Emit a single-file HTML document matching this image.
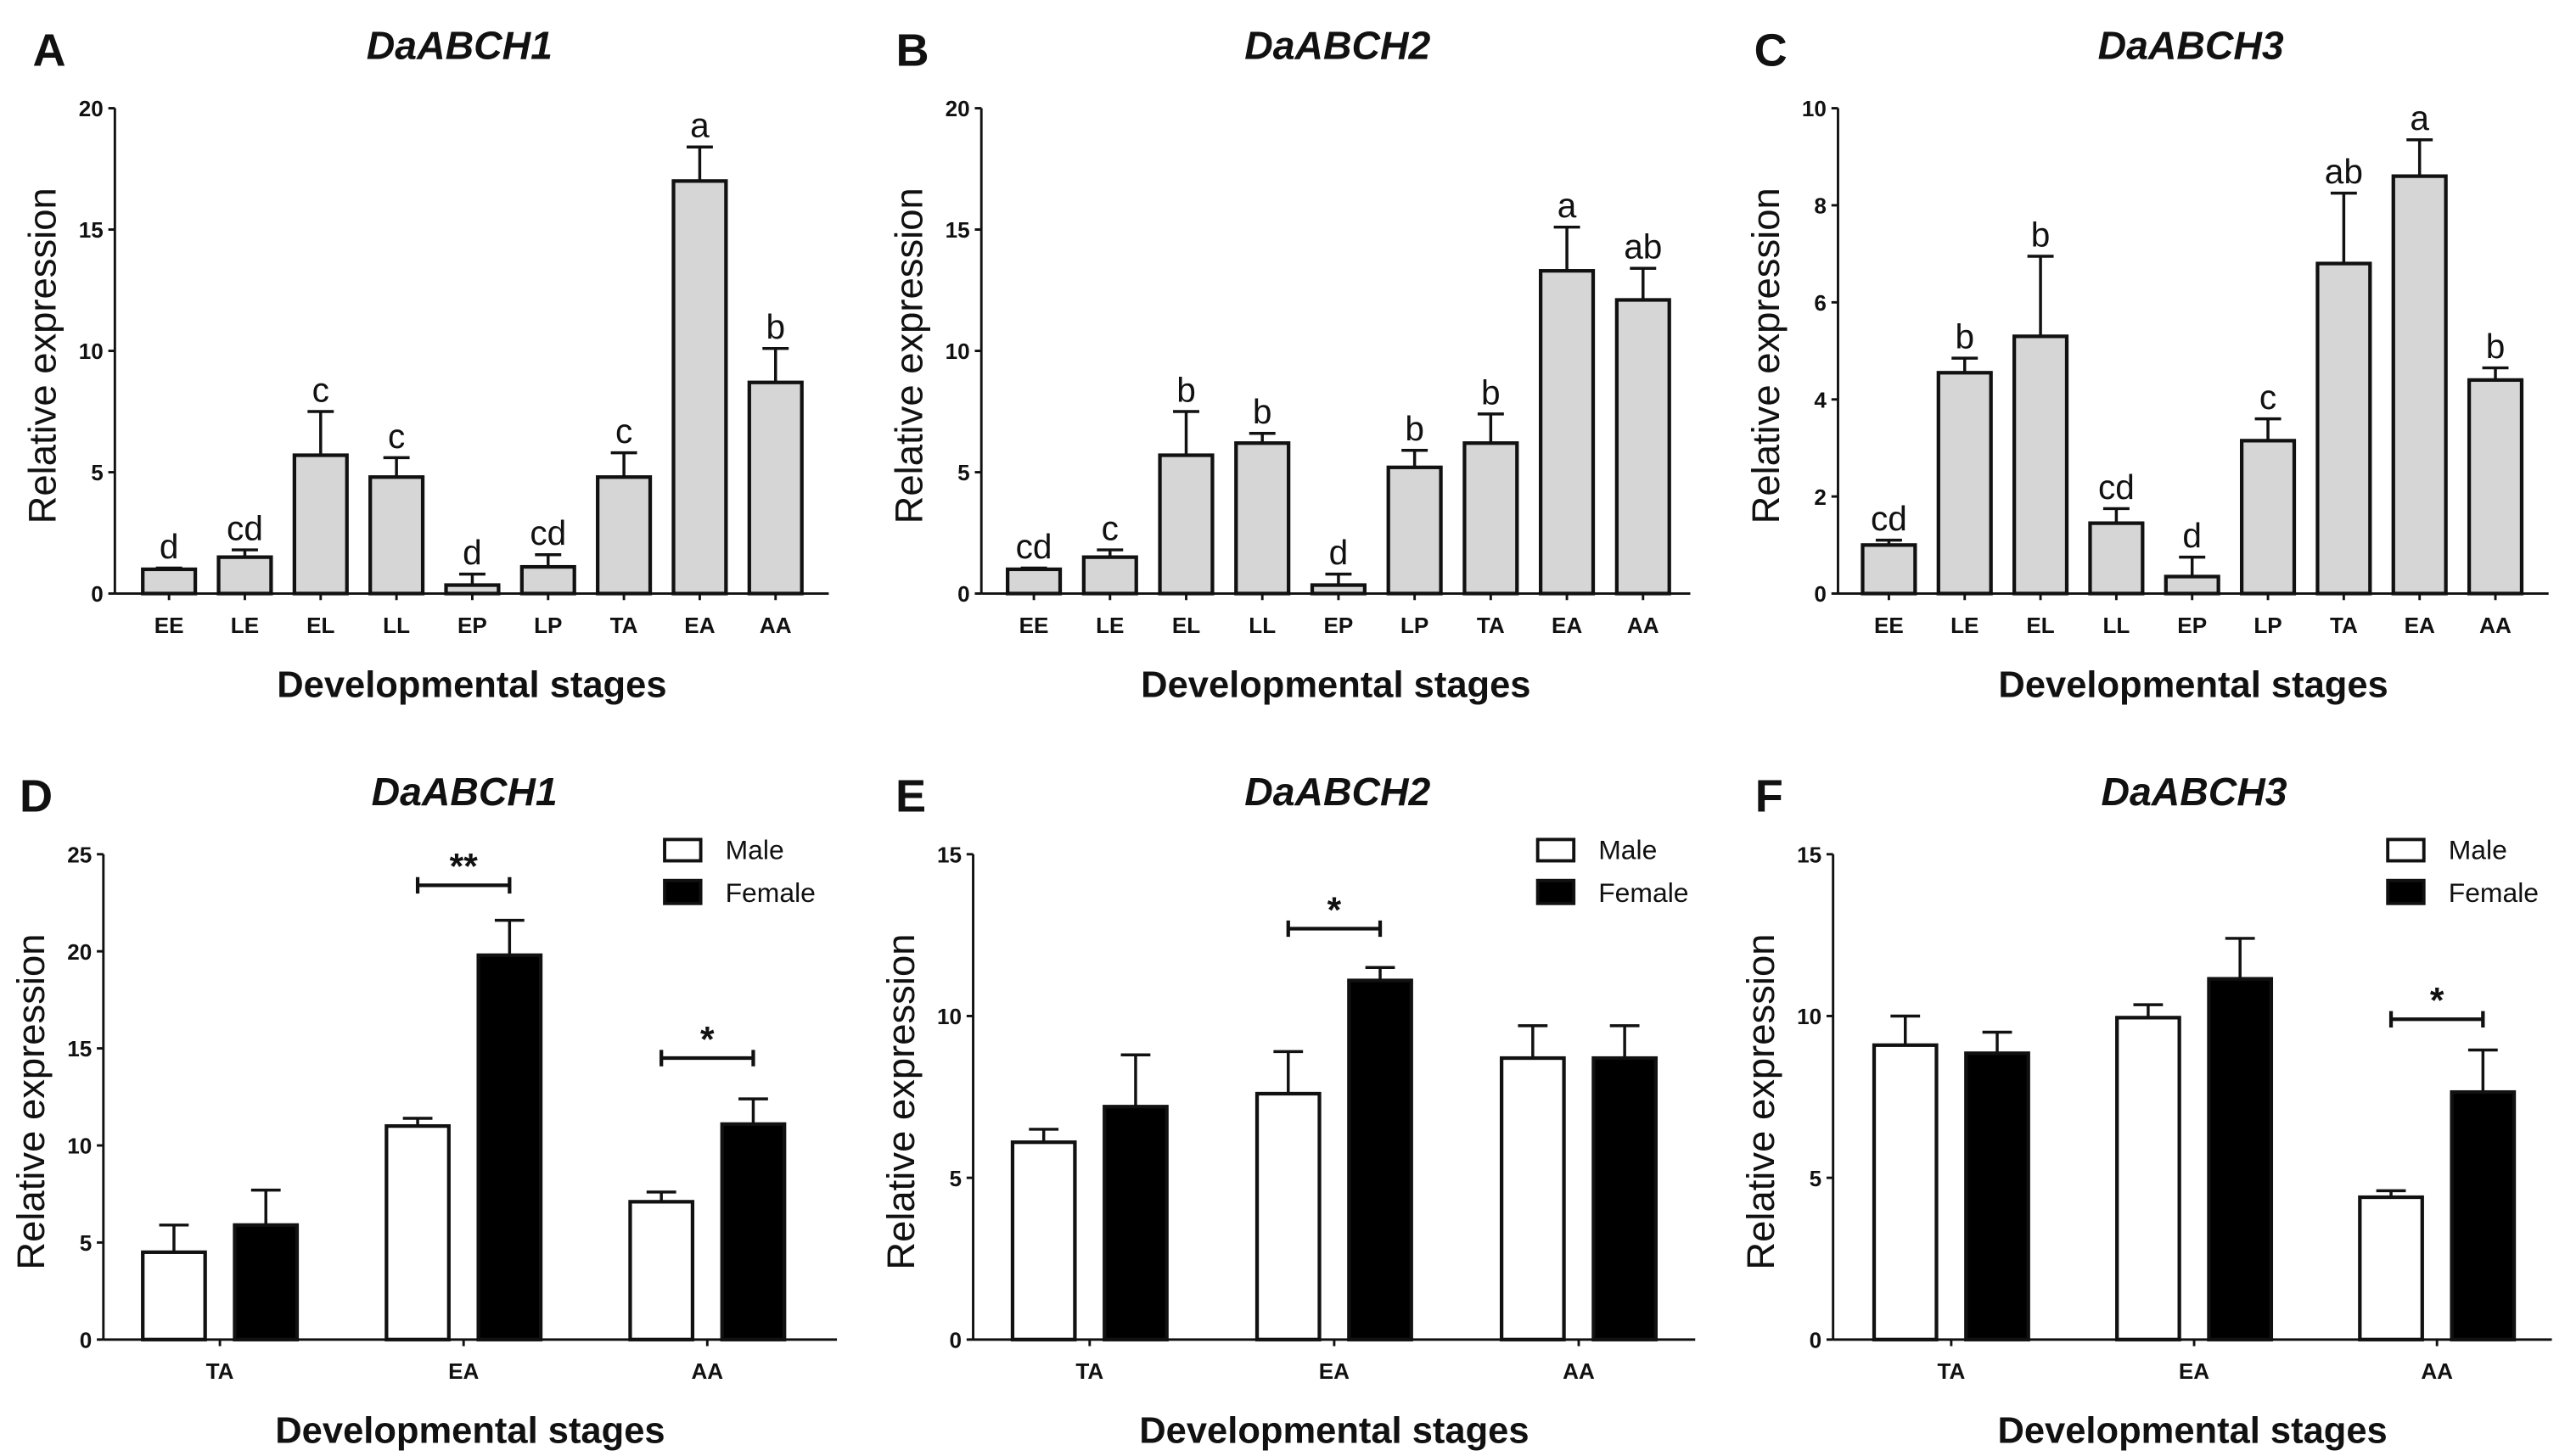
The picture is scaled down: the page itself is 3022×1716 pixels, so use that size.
<!DOCTYPE html>
<html><head><meta charset="utf-8"><style>
html,body{margin:0;padding:0;background:#fff}
svg{display:block}
text{font-family:"Liberation Sans",Arial,sans-serif;fill:#111}
</style></head><body>
<svg id="fig" width="3022" height="1716" viewBox="0 0 1563 888" preserveAspectRatio="none" xmlns="http://www.w3.org/2000/svg"></svg>
<script>
// ---- Data: top row (developmental stages) ----
const stages = ["EE","LE","EL","LL","EP","LP","TA","EA","AA"];
const aVals = [1.0,1.5,5.7,4.8,0.35,1.1,4.8,17.0,8.7];
const aErr  = [1.05,1.8,7.5,5.6,0.8,1.6,5.8,18.4,10.1];
const aSig  = ["d","cd","c","c","d","cd","c","a","b"];
const bVals = [1.0,1.5,5.7,6.2,0.35,5.2,6.2,13.3,12.1];
const bErr  = [1.05,1.8,7.5,6.6,0.8,5.9,7.4,15.1,13.4];
const bSig  = ["cd","c","b","b","d","b","b","a","ab"];
const cVals = [1.0,4.55,5.3,1.45,0.35,3.15,6.8,8.6,4.4];
const cErr  = [1.1,4.85,6.95,1.75,0.75,3.6,8.25,9.35,4.65];
const cSig  = ["cd","b","b","cd","d","c","ab","a","b"];
const ticksA = [0,5,10,15,20];
const ticksC = [0,2,4,6,8,10];
// ---- Data: bottom row (sex) ----
const groups = ["TA","EA","AA"];
const dMale = [4.5,11.0,7.1],  dMaleErr = [5.9,11.4,7.6];
const dFem  = [5.9,19.8,11.1], dFemErr  = [7.7,21.6,12.4];
const eMale = [6.1,7.6,8.7],   eMaleErr = [6.5,8.9,9.7];
const eFem  = [7.2,11.1,8.7],  eFemErr  = [8.8,11.5,9.7];
const fMale = [9.1,9.95,4.4],  fMaleErr = [10.0,10.35,4.6];
const fFem  = [8.85,11.15,7.65],fFemErr = [9.5,12.4,8.95];
const ticksD = [0,5,10,15,20,25];
const ticksEF = [0,5,10,15];
const dSigs = [{g:1,y:23.4,s:"**"},{g:2,y:14.5,s:"*"}];
const eSigs = [{g:1,y:12.7,s:"*"}];
const fSigs = [{g:2,y:9.9,s:"*"}];

const svg = document.getElementById('fig');
const NS = "http://www.w3.org/2000/svg";
function el(tag, attrs, parent){
  const e = document.createElementNS(NS, tag);
  for (const k in attrs) e.setAttribute(k, attrs[k]);
  (parent||svg).appendChild(e);
  return e;
}
function txt(x,y,s,size,opts,parent){
  const t = el('text',{x:x,y:y,'font-size':size,'text-anchor':(opts&&opts.anchor)||'middle','font-weight':(opts&&opts.weight)||'normal','font-style':(opts&&opts.style)||'normal'},parent);
  if (opts && opts.rotate) t.setAttribute('transform','rotate(-90 '+x+' '+y+')');
  t.textContent = s;
  return t;
}

function frame(g, x0, xEnd, yTop, yZero, maxV, ticks, title, letter, lx, tx){
  const ys = v => yZero - v/maxV*(yZero-yTop);
  const yAxis = el('line',{x1:x0,y1:yTop,x2:x0,y2:yZero,stroke:'#111','stroke-width':1.5},g);
  
  
  const xAxis = el('line',{x1:x0,y1:yZero,x2:xEnd,y2:yZero,stroke:'#111','stroke-width':1.5},g);
  
  
  ticks.forEach(t=>{
    el('line',{x1:x0-4,y1:ys(t),x2:x0,y2:ys(t),stroke:'#111','stroke-width':1.5},g);
    const tl = txt(x0-7, ys(t)+5, String(t), 13.5, {anchor:'end',weight:'bold'}, g);
    
    
  });
  const yt = txt(x0-36, (yTop+yZero)/2+3, 'Relative expression', 23.5, {rotate:true}, g);
  
  
  const xt = txt((x0+xEnd)/2, yZero+63, 'Developmental stages', 22.5, {weight:'bold'}, g);
  
  
  const ti = txt(tx, yTop-30, title, 24, {weight:'bold',style:'italic'}, g);
  
  
  const le = txt(lx, yTop-26, letter, 28, {weight:'bold'}, g);
  
  
  return ys;
}

function errBar(g, cx, top, val, ys, hw){
  el('line',{x1:cx,y1:ys(val),x2:cx,y2:ys(top),stroke:'#111','stroke-width':1.8},g);
  el('line',{x1:cx-hw,y1:ys(top),x2:cx+hw,y2:ys(top),stroke:'#111','stroke-width':1.8},g);
}

function stagePanel(name, x0, xEnd, x1, step, maxV, ticks, vals, errs, sigs, title, letter, lx, tx){
  const g = el('g',{});
  
  
  const ys = frame(g, x0, xEnd, 66, 362, maxV, ticks, title, letter, lx, tx);
  const xs = i => x1 + i*step;
  const bw = 32;
  stages.forEach((s,i)=>{
    errBar(g, xs(i), errs[i], vals[i], ys, 8);
    const r = el('rect',{x:xs(i)-bw/2,y:ys(vals[i]),width:bw,height:ys(0)-ys(vals[i]),fill:'#d6d6d6',stroke:'#111','stroke-width':2.2},g);
    
    
    el('line',{x1:xs(i),y1:362,x2:xs(i),y2:366,stroke:'#111','stroke-width':1.5},g);
    const tl = txt(xs(i), 386, s, 13.5, {weight:'bold'}, g);
    
    
    const sl = txt(xs(i), ys(errs[i])-6, sigs[i], 21, {}, g);
    
    
  });
}

function sexPanel(name, x0, xEnd, c1, step, maxV, ticks, m, me, f, fe, sigs, title, letter, lx, tx, legX){
  const g = el('g',{});
  
  
  const ys = frame(g, x0, xEnd, 521, 817, maxV, ticks, title, letter, lx, tx);
  const xs = i => c1 + i*step;
  const bw = 38, off = 28;
  groups.forEach((s,i)=>{
    errBar(g, xs(i)-off, me[i], m[i], ys, 9);
    errBar(g, xs(i)+off, fe[i], f[i], ys, 9);
    const rm = el('rect',{x:xs(i)-off-bw/2,y:ys(m[i]),width:bw,height:ys(0)-ys(m[i]),fill:'#fff',stroke:'#111','stroke-width':2.2},g);
    
    
    const rf = el('rect',{x:xs(i)+off-bw/2,y:ys(f[i]),width:bw,height:ys(0)-ys(f[i]),fill:'#000',stroke:'#111','stroke-width':2.2},g);
    
    
    el('line',{x1:xs(i),y1:817,x2:xs(i),y2:821,stroke:'#111','stroke-width':1.5},g);
    const tl = txt(xs(i), 841, s, 13.5, {weight:'bold'}, g);
    
    
  });
  sigs.forEach(sg=>{
    const a = xs(sg.g)-off, b = xs(sg.g)+off, y = ys(sg.y);
    const br = el('path',{d:'M'+a+' '+(y-5)+'V'+(y+5)+'M'+a+' '+y+'H'+b+'M'+b+' '+(y-5)+'V'+(y+5),stroke:'#111','stroke-width':2.2,fill:'none'},g);
    
    
    const st = txt((a+b)/2, y-4, sg.s, 22, {weight:'bold'}, g);
    
    
  });
  const lg = el('g',{},g);
  
  
  const lm = el('rect',{x:legX,y:512,width:22,height:13,fill:'#fff',stroke:'#111','stroke-width':2},lg);
  
  
  const lf = el('rect',{x:legX,y:537,width:22,height:14,fill:'#000',stroke:'#111','stroke-width':2},lg);
  
  
  const t1 = txt(legX+37, 524, 'Male', 16.5, {anchor:'start'}, lg);
  
  
  const t2 = txt(legX+37, 550, 'Female', 16.5, {anchor:'start'}, lg);
  
  
}

stagePanel('panel-a-chart', 70, 505, 103, 46.2, 20, ticksA, aVals, aErr, aSig, 'DaABCH1', 'A', 30, 280);
stagePanel('panel-b-chart', 598, 1030, 630, 46.4, 20, ticksA, bVals, bErr, bSig, 'DaABCH2', 'B', 556, 815);
stagePanel('panel-c-chart', 1120, 1553, 1151, 46.2, 10, ticksC, cVals, cErr, cSig, 'DaABCH3', 'C', 1079, 1335);
sexPanel('panel-d-chart', 63, 510, 134, 148.5, 25, ticksD, dMale, dMaleErr, dFem, dFemErr, dSigs, 'DaABCH1', 'D', 22, 283, 405);
sexPanel('panel-e-chart', 593, 1033, 664, 149, 15, ticksEF, eMale, eMaleErr, eFem, eFemErr, eSigs, 'DaABCH2', 'E', 555, 815, 937);
sexPanel('panel-f-chart', 1117, 1555, 1189, 148, 15, ticksEF, fMale, fMaleErr, fFem, fFemErr, fSigs, 'DaABCH3', 'F', 1078, 1337, 1455);
</script>
</body></html>
